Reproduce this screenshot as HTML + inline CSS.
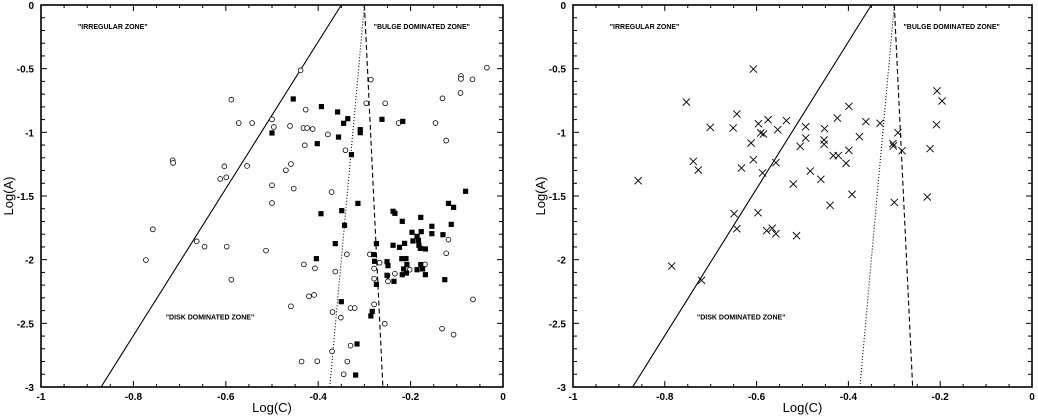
<!DOCTYPE html>
<html><head><meta charset="utf-8"><style>
html,body{margin:0;padding:0;background:#fff;}
svg{display:block;font-family:"Liberation Sans",sans-serif;}
</style></head><body>
<svg id="c" width="1038" height="417" viewBox="0 0 1038 417" xmlns="http://www.w3.org/2000/svg"></svg>
<script>
const leftCircles=[[-0.438,-0.513],[-0.286,-0.586],[-0.588,-0.743],[-0.427,-0.822],[-0.296,-0.772],[-0.255,-0.772],[-0.572,-0.927],[-0.543,-0.927],[-0.5,-0.898],[-0.496,-0.958],[-0.461,-0.95],[-0.432,-0.966],[-0.424,-0.966],[-0.412,-0.974],[-0.379,-1.016],[-0.429,-1.102],[-0.341,-1.141],[-0.715,-1.22],[-0.714,-1.24],[-0.603,-1.267],[-0.599,-1.353],[-0.612,-1.366],[-0.554,-1.264],[-0.459,-1.249],[-0.47,-1.298],[-0.5,-1.416],[-0.453,-1.442],[-0.5,-1.555],[-0.371,-1.469],[-0.758,-1.762],[-0.773,-2.003],[-0.663,-1.856],[-0.646,-1.898],[-0.598,-1.898],[-0.513,-1.929],[-0.588,-2.157],[-0.431,-2.037],[-0.407,-2.068],[-0.363,-2.094],[-0.338,-1.958],[-0.42,-2.288],[-0.409,-2.277],[-0.459,-2.366],[-0.369,-2.411],[-0.351,-2.455],[-0.33,-2.38],[-0.321,-2.38],[-0.37,-2.72],[-0.33,-2.675],[-0.436,-2.8],[-0.402,-2.798],[-0.337,-2.8],[-0.345,-2.9],[-0.288,-1.958],[-0.279,-2.07],[-0.279,-2.149],[-0.267,-2.024],[-0.25,-2.126],[-0.249,-2.17],[-0.234,-2.11],[-0.202,-2.079],[-0.169,-2.037],[-0.279,-2.351],[-0.256,-2.503],[-0.226,-0.927],[-0.146,-0.927],[-0.123,-1.065],[-0.131,-0.733],[-0.118,-1.843],[-0.123,-1.95],[-0.065,-2.312],[-0.132,-2.542],[-0.107,-2.589],[-0.092,-0.691],[-0.091,-0.558],[-0.091,-0.58],[-0.066,-0.584],[-0.035,-0.492]];
const leftSquares=[[-0.454,-0.738],[-0.393,-0.798],[-0.358,-0.84],[-0.336,-0.893],[-0.345,-0.929],[-0.262,-0.898],[-0.217,-0.914],[-0.5,-1.005],[-0.356,-1.037],[-0.309,-0.979],[-0.309,-1.003],[-0.402,-1.089],[-0.328,-1.175],[-0.394,-1.639],[-0.314,-1.558],[-0.349,-1.615],[-0.343,-1.73],[-0.363,-1.874],[-0.404,-1.992],[-0.274,-1.874],[-0.28,-1.96],[-0.278,-2.013],[-0.274,-2.194],[-0.35,-2.33],[-0.283,-2.406],[-0.286,-2.442],[-0.316,-2.662],[-0.319,-2.906],[-0.081,-1.463],[-0.118,-1.558],[-0.107,-1.589],[-0.112,-1.723],[-0.13,-1.804],[-0.154,-1.738],[-0.154,-1.796],[-0.178,-1.668],[-0.238,-1.62],[-0.234,-1.636],[-0.218,-1.699],[-0.197,-1.785],[-0.177,-1.78],[-0.195,-1.853],[-0.213,-1.872],[-0.238,-1.887],[-0.224,-1.903],[-0.186,-1.817],[-0.183,-1.848],[-0.182,-1.887],[-0.179,-1.911],[-0.168,-1.916],[-0.219,-1.992],[-0.21,-1.992],[-0.251,-2.016],[-0.249,-2.047],[-0.208,-2.039],[-0.215,-2.073],[-0.209,-2.105],[-0.218,-2.118],[-0.236,-2.17],[-0.186,-2.079],[-0.178,-2.039],[-0.174,-2.073],[-0.168,-2.118],[-0.126,-2.157],[-0.251,-2.123]];
const rightCrosses=[[-0.858,-1.38],[-0.753,-0.762],[-0.785,-2.05],[-0.738,-1.228],[-0.727,-1.296],[-0.72,-2.162],[-0.701,-0.961],[-0.651,-0.966],[-0.643,-0.856],[-0.633,-1.28],[-0.649,-1.639],[-0.643,-1.757],[-0.607,-0.503],[-0.612,-1.084],[-0.607,-1.215],[-0.596,-0.932],[-0.591,-1.005],[-0.585,-1.013],[-0.587,-1.319],[-0.597,-1.631],[-0.575,-0.901],[-0.554,-0.979],[-0.558,-1.238],[-0.578,-1.772],[-0.566,-1.754],[-0.558,-1.796],[-0.535,-0.908],[-0.52,-1.406],[-0.513,-1.812],[-0.505,-1.11],[-0.493,-0.956],[-0.493,-1.045],[-0.483,-1.304],[-0.46,-1.369],[-0.452,-0.971],[-0.453,-1.06],[-0.453,-1.094],[-0.44,-1.573],[-0.433,-1.183],[-0.422,-1.183],[-0.424,-0.888],[-0.405,-1.243],[-0.399,-0.796],[-0.399,-1.141],[-0.392,-1.487],[-0.376,-1.034],[-0.362,-0.916],[-0.331,-0.929],[-0.303,-1.089],[-0.302,-1.107],[-0.292,-1.003],[-0.283,-1.144],[-0.3,-1.55],[-0.222,-1.128],[-0.228,-1.508],[-0.208,-0.94],[-0.207,-0.675],[-0.196,-0.754]];
const xTickLabels=["-1","-0.8","-0.6","-0.4","-0.2","0"];
const yTickLabels=["0","-0.5","-1","-1.5","-2","-2.5","-3"];
const solidLine=[[-0.87,-3],[-0.35,0]];
const dottedLine=[[-0.375,-3],[-0.3,0]];
const dashedLine=[[-0.3,0],[-0.26,-3]];

const NS="http://www.w3.org/2000/svg";
const svg=document.getElementById('c');
function mk(tag,attrs,parent,text){const e=document.createElementNS(NS,tag);for(const k in attrs)e.setAttribute(k,attrs[k]);if(text!==undefined)e.textContent=text;(parent||svg).appendChild(e);return e;}

function panel(id,x0,x1,y0,y1){
  const sx=v=>x0+(v+1)*(x1-x0);
  const sy=v=>y0+(-v/3)*(y1-y0);
  const g=mk('g',{});
  
  
  const frame=mk('rect',{x:x0,y:y0,width:x1-x0,height:y1-y0,fill:'none',stroke:'#000','stroke-width':1.6},g);
  
  
  for(let i=0;i<=20;i++){const v=-1+i*0.05;const L=(i%4===0)?6:3;const x=sx(v);
    mk('line',{x1:x,y1:y1,x2:x,y2:y1-L,stroke:'#000','stroke-width':1},g);
    mk('line',{x1:x,y1:y0,x2:x,y2:y0+L,stroke:'#000','stroke-width':1},g);}
  for(let i=0;i<=30;i++){const v=-i*0.1;const L=(i%5===0)?6:4;const y=sy(v);
    mk('line',{x1:x0,y1:y,x2:x0+L,y2:y,stroke:'#000','stroke-width':1},g);
    mk('line',{x1:x1,y1:y,x2:x1-L,y2:y,stroke:'#000','stroke-width':1},g);}
  xTickLabels.forEach((t,i)=>{const e=mk('text',{x:sx(-1+i*0.2),y:y1+13,'font-size':10,'font-weight':'bold','text-anchor':'middle'},g,t);
    
    });
  yTickLabels.forEach((t,i)=>{const e=mk('text',{x:x0-7,y:sy(-i*0.5)+4,'font-size':10,'font-weight':'bold','text-anchor':'end'},g,t);
    
    });
  const xt=mk('text',{x:(x0+x1)/2,y:412,'font-size':13,'text-anchor':'middle'},g,'Log(C)');
  
  
  const yt=mk('text',{x:0,y:0,'font-size':13,'text-anchor':'middle',transform:`translate(${x0-28},${(y0+y1)/2}) rotate(-90)`},g,'Log(A)');
  
  
  const lab=(t,vx,vy,n)=>{const e=mk('text',{x:sx(vx),y:sy(vy),'font-size':7,'font-weight':'bold'},g,t);
    
    };
  lab('"IRREGULAR ZONE"',-0.92,-0.19,id+'-irregular-zone-label');
  lab('"BULGE DOMINATED ZONE"',-0.28,-0.19,id+'-bulge-zone-label');
  lab('"DISK DOMINATED ZONE"',-0.73,-2.47,id+'-disk-zone-label');
  const ln=(p,dash,n)=>{const e=mk('line',{x1:sx(p[0][0]),y1:sy(p[0][1]),x2:sx(p[1][0]),y2:sy(p[1][1]),stroke:'#000','stroke-width':1.1,'stroke-dasharray':dash},g);
    
    };
  ln(solidLine,'none',id+'-solid-boundary');
  ln(dottedLine,'1,2',id+'-dotted-boundary');
  ln(dashedLine,'5,3',id+'-dashed-boundary');
  return {g,sx,sy};
}
const L=panel('left',41,503,5,387);
leftCircles.forEach(p=>{const e=mk('circle',{cx:L.sx(p[0]),cy:L.sy(p[1]),r:2.4,fill:'#fff',stroke:'#000','stroke-width':0.8},L.g);
  
  });
leftSquares.forEach(p=>{const e=mk('rect',{x:L.sx(p[0])-2.6,y:L.sy(p[1])-2.6,width:5.2,height:5.2,fill:'#000'},L.g);
  
  });
const R=panel('right',573,1032,5,387);
rightCrosses.forEach(p=>{const x=R.sx(p[0]),y=R.sy(p[1]),s=3.6;
  const e=mk('path',{d:`M${x-s},${y-s}L${x+s},${y+s}M${x-s},${y+s}L${x+s},${y-s}`,stroke:'#000','stroke-width':0.9,fill:'none'},R.g);
  
  });
</script>
</body></html>
